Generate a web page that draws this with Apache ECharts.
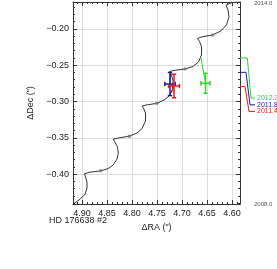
<!DOCTYPE html>
<html><head><meta charset="utf-8">
<script src="https://cdn.jsdelivr.net/npm/echarts@6/dist/echarts.min.js"></script>
<style>html,body{margin:0;padding:0;background:#fff}#c{width:277px;height:269px}</style>
</head><body><div id="c"></div>
<script>
// Orbit track (parallax + proper motion)
const curveRA = [4.917,4.904,4.894,4.890,4.890,4.893,4.895,4.884,4.8626,4.848,4.838,4.830,4.8274,4.829,4.834,4.8374,4.828,4.8054,4.790,4.780,4.773,4.773,4.777,4.780,4.772,4.7506,4.736,4.726,4.719,4.718,4.721,4.725,4.716,4.694,4.678,4.667,4.661,4.661,4.665,4.669,4.660,4.6386,4.622,4.611,4.606,4.608,4.612,4.614,4.602,4.584];
const curveDec = [-0.4407,-0.4345,-0.4276,-0.4193,-0.4110,-0.4041,-0.3993,-0.3972,-0.3954,-0.3924,-0.3876,-0.3793,-0.3710,-0.3628,-0.3559,-0.3517,-0.3503,-0.3476,-0.3434,-0.3372,-0.3269,-0.3159,-0.3090,-0.3062,-0.3048,-0.3025,-0.2979,-0.2924,-0.2828,-0.2717,-0.2634,-0.2586,-0.2572,-0.2552,-0.2517,-0.2455,-0.2359,-0.2248,-0.2172,-0.2131,-0.2110,-0.2083,-0.2028,-0.1945,-0.1834,-0.1738,-0.1676,-0.1655,-0.1641,-0.1628];
// yearly markers on the track
const yearRA = [4.8626,4.8054,4.7506,4.694,4.6386];
const yearDec = [-0.3954,-0.3476,-0.3025,-0.2552,-0.2083];
// measurements
const epochLabels = ['2012.3','2011.8','2011.4'];
const measRA = [4.653,4.724,4.716];
const measDec = [-0.2749,-0.2759,-0.2786];
const errRA = [0.009,0.0104,0.011];
const errDec = [0.0138,0.0159,0.0162];
const predRA = [4.662,4.723,4.721];
const predDec = [-0.2400,-0.2621,-0.2883];
const epochYear = [2012.36,2011.93,2011.51];
const labelYear = [2011.16,2010.96,2010.76];
const epochColors = ['#2ed82e','#1c1c9a','#ee1a1a'];
// axis ranges
const raRange = [4.584,4.918];
const decRange = [-0.441,-0.163];
const yearRange = [2008,2014];
const starName = 'HD 176638 #2';

const FONT = 'Liberation Sans';
const fmt2 = v => v.toFixed(2).replace('-', '\u2212');
function axisCommon(extra){
  return Object.assign({
    type:'value', splitNumber:6,
    axisLine:{show:true,lineStyle:{color:'#333',width:1}},
    axisTick:{show:true,inside:true,length:4,lineStyle:{color:'#333'}},
    minorTick:{show:true,splitNumber:5,length:2,lineStyle:{color:'#333'}},
    splitLine:{show:false},
    axisLabel:{show:false}
  }, extra);
}
const chart = echarts.init(document.getElementById('c'), null, {renderer:'canvas'});
const series = [];
series.push({type:'line', xAxisIndex:0, yAxisIndex:0, data: curveRA.map((x,i)=>[x,curveDec[i]]),
  showSymbol:false, symbol:'none', lineStyle:{color:'#333',width:1}, z:2, silent:true});
series.push({type:'scatter', xAxisIndex:0, yAxisIndex:0, data: yearRA.map((x,i)=>[x,yearDec[i]]),
  symbol:'circle', symbolSize:3.5, itemStyle:{color:'#777'}, z:3, silent:true});
for (let k=0;k<epochLabels.length;k++){
  const col = epochColors[k];
  series.push({type:'line', xAxisIndex:0, yAxisIndex:0,
    data:[[predRA[k],predDec[k]],[measRA[k],measDec[k]]], showSymbol:false, symbol:'none',
    lineStyle:{color:col,width:1}, z:4, silent:true});
  series.push({type:'custom', xAxisIndex:0, yAxisIndex:0, z:5, silent:true,
    data:[[measRA[k],measDec[k],errRA[k],errDec[k]]],
    renderItem:function(params, api){
      const x=api.value(0), y=api.value(1), ex=api.value(2), ey=api.value(3);
      const l=api.coord([x-ex,y]), r=api.coord([x+ex,y]), t=api.coord([x,y+ey]), b=api.coord([x,y-ey]);
      const cap=2.2, st={stroke:col,lineWidth:1.5};
      const L=(a,b2,c,d)=>({type:'line',shape:{x1:a,y1:b2,x2:c,y2:d},style:st});
      return {type:'group',children:[
        L(l[0],l[1],r[0],r[1]), L(t[0],t[1],b[0],b[1]),
        L(l[0],l[1]-cap,l[0],l[1]+cap), L(r[0],r[1]-cap,r[0],r[1]+cap),
        L(t[0]-cap,t[1],t[0]+cap,t[1]), L(b[0]-cap,b[1],b[0]+cap,b[1])
      ]};
    }});
  // leader line on the epoch scale
  const xs = [[0,7.3,11,15],[0,6,10,15],[0,5,9,15]][k];
  series.push({type:'line', xAxisIndex:2, yAxisIndex:2, showSymbol:false, symbol:'none', silent:true,
    lineStyle:{color:col,width:1}, clip:false,
    data:[[xs[0],epochYear[k]],[xs[1],epochYear[k]],[xs[2],labelYear[k]],[xs[3],labelYear[k]]],
    endLabel:{show:true, distance:2, formatter:epochLabels[k], color:col, fontSize:7, fontFamily:FONT}});
}
chart.setOption({
  animation:false,
  textStyle:{fontFamily:FONT},
  grid:[{left:73,right:37,top:2,bottom:65},{left:240,right:0,top:2,bottom:65}],
  xAxis:[
    axisCommon({gridIndex:0, inverse:true, min:raRange[0], max:raRange[1], splitNumber:7,
      splitLine:{show:true,lineStyle:{color:'#dcdcdc',width:1}},
      axisLabel:{show:true,showMinLabel:false,showMaxLabel:false,fontSize:9,color:'#222',margin:5,
        formatter:v=>v.toFixed(2)},
      name:'\u0394RA (")', nameLocation:'middle', nameGap:12, nameTextStyle:{fontSize:9,color:'#222'}}),
    axisCommon({gridIndex:0, position:'top', inverse:true, min:raRange[0], max:raRange[1], splitNumber:7}),
    {type:'value', gridIndex:1, min:0, max:37, show:false}
  ],
  yAxis:[
    axisCommon({gridIndex:0, min:decRange[0], max:decRange[1], splitNumber:5,
      splitLine:{show:true,lineStyle:{color:'#dcdcdc',width:1}},
      axisLabel:{show:true,showMinLabel:false,showMaxLabel:false,fontSize:9,color:'#222',margin:4,
        formatter:fmt2},
      name:'\u0394Dec (")', nameLocation:'middle', nameGap:25, nameTextStyle:{fontSize:9,color:'#222'}}),
    axisCommon({gridIndex:0, position:'right', min:decRange[0], max:decRange[1], splitNumber:5}),
    {type:'value', gridIndex:1, min:yearRange[0], max:yearRange[1], position:'left',
      axisLine:{show:false}, axisTick:{show:false}, splitLine:{show:false},
      axisLabel:{show:true, inside:true, margin:14, fontSize:6, color:'#555', showMinLabel:true, showMaxLabel:true,
        formatter:v=> (v===yearRange[0]||v===yearRange[1]) ? v.toFixed(1) : ''}}
  ],
  graphic:[{type:'text', left:49, top:216, style:{text:starName, font:'9px "Liberation Sans"', fill:'#222'}}],
  series: series
});
</script></body></html>
